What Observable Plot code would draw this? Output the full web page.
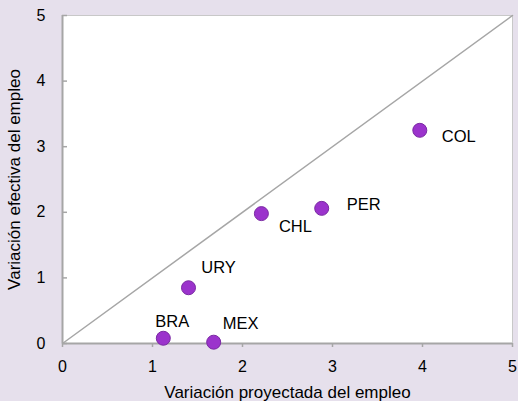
<!DOCTYPE html>
<html>
<head>
<meta charset="utf-8">
<script src="https://cdn.jsdelivr.net/npm/d3@7"></script>
<script src="https://cdn.jsdelivr.net/npm/@observablehq/plot@0.6"></script>
<style>
  html, body { margin: 0; padding: 0; background: #e6e0ec; }
  #chart { width: 518px; height: 401px; }
</style>
</head>
<body>
<div id="chart"></div>
<script>
const countries = ["BRA", "MEX", "URY", "CHL", "PER", "COL"];
const projected = [1.12, 1.68, 1.40, 2.21, 2.88, 3.97];
const actual = [0.08, 0.02, 0.85, 1.98, 2.06, 3.25];
const ticks = [0, 1, 2, 3, 4, 5];
const diagonal = [0, 5];

const data = countries.map((c, i) => ({ name: c, x: projected[i], y: actual[i] }));
const only = n => data.filter(d => d.name === n);

const labelStyle = { x: "x", y: "y", text: "name", fontSize: 16.5, fill: "#000" };

const chart = Plot.plot({
  width: 518,
  height: 401,
  marginLeft: 62,
  marginRight: 6,
  marginTop: 15,
  marginBottom: 58,
  style: { background: "#e6e0ec", fontFamily: "'Liberation Sans', Arial, sans-serif", fontSize: "16px", color: "#000" },
  x: { domain: [0, 5] },
  y: { domain: [0, 5] },
  marks: [
    Plot.frame({ fill: "#fff", stroke: "#c8c8c8", strokeWidth: 1 }),
    Plot.line(diagonal.map(v => ({ v })), { x: "v", y: "v", stroke: "#a6a6a6", strokeWidth: 1.5 }),
    Plot.ruleX([0], { stroke: "#a6a6a6", strokeWidth: 2 }),
    Plot.ruleY([0], { stroke: "#a6a6a6", strokeWidth: 2 }),
    Plot.axisX({ ticks, tickFormat: "d", tickSize: 4, tickPadding: 13, stroke: "#a6a6a6", strokeWidth: 1.5, fontSize: 16,
      label: null }),
    Plot.axisX({ ticks: [], label: "Variación proyectada del empleo", labelAnchor: "center", labelArrow: "none", labelOffset: 54, fontSize: 17 }),
    Plot.axisY({ ticks, tickFormat: "d", tickSize: 0, tickPadding: 17, fontSize: 16, label: null }),
    Plot.axisY({ ticks: [], label: "Variación efectiva del empleo", labelAnchor: "center", labelArrow: "none", labelOffset: 55, fontSize: 17 }),
    Plot.axisY({ ticks, tickSize: -5, text: null, label: null, stroke: "#a6a6a6", strokeWidth: 1.5 }),
    Plot.dot(data, { x: "x", y: "y", r: 7, fill: "#9b33cc", stroke: "#7a2aa3", strokeWidth: 1 }),
    Plot.text(only("BRA"), { ...labelStyle, dx: 9, dy: -17 }),
    Plot.text(only("MEX"), { ...labelStyle, dx: 27, dy: -18 }),
    Plot.text(only("URY"), { ...labelStyle, dx: 30, dy: -20 }),
    Plot.text(only("CHL"), { ...labelStyle, dx: 34, dy: 13 }),
    Plot.text(only("PER"), { ...labelStyle, dx: 42, dy: -4 }),
    Plot.text(only("COL"), { ...labelStyle, dx: 39, dy: 6 })
  ]
});
document.getElementById("chart").appendChild(chart);
</script>
</body>
</html>
